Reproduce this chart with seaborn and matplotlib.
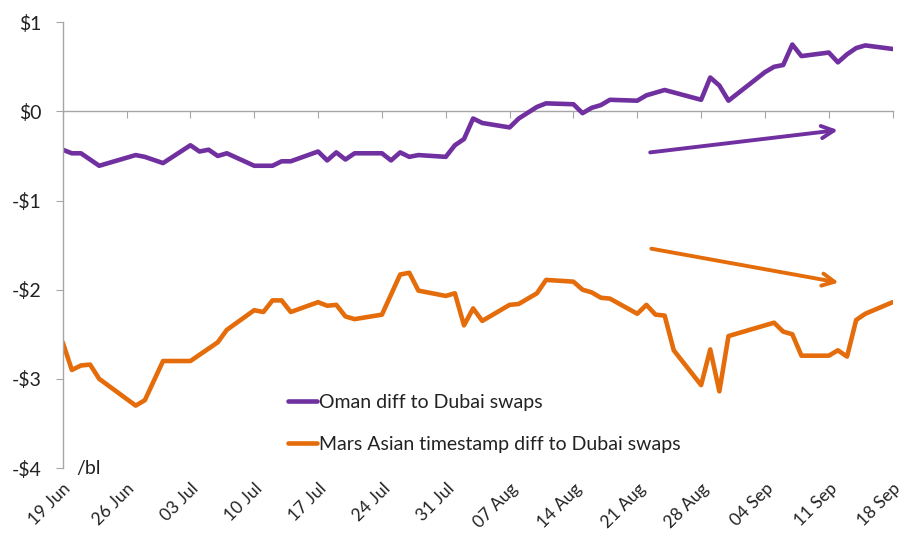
import pandas as pd
import matplotlib
matplotlib.use('Agg')
import matplotlib.pyplot as plt
import matplotlib.dates as mdates
import seaborn as sns

# 데이터
oman_dates = ['2017-06-19', '2017-06-20', '2017-06-21', '2017-06-23', '2017-06-27', '2017-06-28',
              '2017-06-30', '2017-07-03', '2017-07-04', '2017-07-05', '2017-07-06', '2017-07-07',
              '2017-07-10', '2017-07-12', '2017-07-13', '2017-07-14', '2017-07-17', '2017-07-18',
              '2017-07-19', '2017-07-20', '2017-07-21', '2017-07-24', '2017-07-25', '2017-07-26',
              '2017-07-27', '2017-07-28', '2017-07-31', '2017-08-01', '2017-08-02', '2017-08-03',
              '2017-08-04', '2017-08-07', '2017-08-08', '2017-08-10', '2017-08-11', '2017-08-14',
              '2017-08-15', '2017-08-16', '2017-08-17', '2017-08-18', '2017-08-21', '2017-08-22',
              '2017-08-24', '2017-08-28', '2017-08-29', '2017-08-30', '2017-08-31', '2017-09-04',
              '2017-09-05', '2017-09-06', '2017-09-07', '2017-09-08', '2017-09-11', '2017-09-12',
              '2017-09-13', '2017-09-14', '2017-09-15', '2017-09-18']
oman_vals = [-0.43, -0.47, -0.47, -0.61, -0.49, -0.51,
             -0.58, -0.38, -0.45, -0.43, -0.50, -0.47,
             -0.61, -0.61, -0.56, -0.56, -0.45, -0.55,
             -0.46, -0.54, -0.47, -0.47, -0.55, -0.46,
             -0.51, -0.49, -0.51, -0.38, -0.31, -0.08,
             -0.13, -0.18, -0.08, 0.05, 0.09, 0.08,
             -0.02, 0.04, 0.07, 0.13, 0.12, 0.18,
             0.24, 0.13, 0.38, 0.29, 0.12, 0.44,
             0.50, 0.52, 0.75, 0.62, 0.66, 0.55,
             0.64, 0.71, 0.74, 0.70]

mars_dates = ['2017-06-19', '2017-06-20', '2017-06-21', '2017-06-22', '2017-06-23', '2017-06-27',
              '2017-06-28', '2017-06-30', '2017-07-03', '2017-07-06', '2017-07-07', '2017-07-10',
              '2017-07-11', '2017-07-12', '2017-07-13', '2017-07-14', '2017-07-17', '2017-07-18',
              '2017-07-19', '2017-07-20', '2017-07-21', '2017-07-24', '2017-07-26', '2017-07-27',
              '2017-07-28', '2017-07-31', '2017-08-01', '2017-08-02', '2017-08-03', '2017-08-04',
              '2017-08-07', '2017-08-08', '2017-08-10', '2017-08-11', '2017-08-14', '2017-08-15',
              '2017-08-16', '2017-08-17', '2017-08-18', '2017-08-21', '2017-08-22', '2017-08-23',
              '2017-08-24', '2017-08-25', '2017-08-28', '2017-08-29', '2017-08-30', '2017-08-31',
              '2017-09-05', '2017-09-06', '2017-09-07', '2017-09-08', '2017-09-11', '2017-09-12',
              '2017-09-13', '2017-09-14', '2017-09-15', '2017-09-18']
mars_vals = [-2.59, -2.90, -2.85, -2.84, -3.00, -3.30,
             -3.24, -2.80, -2.80, -2.59, -2.45, -2.23,
             -2.25, -2.12, -2.12, -2.25, -2.14, -2.18,
             -2.17, -2.30, -2.33, -2.28, -1.83, -1.81,
             -2.01, -2.07, -2.04, -2.40, -2.21, -2.35,
             -2.17, -2.16, -2.04, -1.89, -1.91, -2.00,
             -2.03, -2.09, -2.10, -2.27, -2.17, -2.28,
             -2.29, -2.68, -3.07, -2.67, -3.14, -2.52,
             -2.37, -2.47, -2.50, -2.74, -2.74, -2.68,
             -2.75, -2.34, -2.27, -2.14]

oman_label = 'Oman diff to Dubai swaps'
mars_label = 'Mars Asian timestamp diff to Dubai swaps'

# 추세 화살표 (시작/끝: 날짜, 값)
oman_arrow_dates = ['2017-08-22 10:00', '2017-09-12 00:00']
oman_arrow_vals = [-0.46, -0.21]
mars_arrow_dates = ['2017-08-22 13:00', '2017-09-12 02:00']
mars_arrow_vals = [-1.54, -1.92]

x_ticks = pd.date_range('2017-06-19', '2017-09-18', freq='7D')
y_ticks = [1, 0, -1, -2, -3, -4]
y_ticklabels = ['$1', '$0', '-$1', '-$2', '-$3', '-$4']

purple = '#7030A0'
orange = '#E46C0A'
grey = '#A6A6A6'

df = pd.concat([
    pd.DataFrame({'date': pd.to_datetime(oman_dates), 'value': oman_vals, 'series': oman_label}),
    pd.DataFrame({'date': pd.to_datetime(mars_dates), 'value': mars_vals, 'series': mars_label}),
], ignore_index=True)

sns.set_style('white')
plt.rcParams['font.family'] = ['Lato', 'DejaVu Sans']

fig = plt.figure(figsize=(9.09, 5.42), dpi=100)
ax = fig.add_axes([0.069, 0.1365, 0.913, 0.8225])

sns.lineplot(data=df, x='date', y='value', hue='series',
             palette={oman_label: purple, mars_label: orange},
             linewidth=3.3, ax=ax, estimator=None, sort=True)

# 화살표
for d, v, c in [(oman_arrow_dates, oman_arrow_vals, purple),
                (mars_arrow_dates, mars_arrow_vals, orange)]:
    dd = pd.to_datetime(d, format='%Y-%m-%d %H:%M')
    ax.annotate('', xy=(dd[1], v[1]), xytext=(dd[0], v[0]),
                arrowprops=dict(arrowstyle='->', color=c, lw=2.8, mutation_scale=22,
                                shrinkA=0, shrinkB=0))

ax.set_xlim(x_ticks[0], x_ticks[-1])
ax.set_ylim(-4, 1)
ax.set_yticks(y_ticks)
ax.set_yticklabels(y_ticklabels)
ax.set_xticks(x_ticks)
ax.xaxis.set_major_formatter(mdates.DateFormatter('%d %b'))
ax.set_xlabel('')
ax.set_ylabel('')

for lbl in ax.get_xticklabels():
    lbl.set_rotation(45)
    lbl.set_ha('right')
    lbl.set_rotation_mode('anchor')
ax.tick_params(axis='x', length=0, labelsize=12.5, pad=9, colors='#222222')
ax.tick_params(axis='y', length=5, direction='out', color=grey, labelsize=14, pad=10,
               labelcolor='#222222')
ax.yaxis.set_ticks_position('left')

for s in ['top', 'right', 'bottom']:
    ax.spines[s].set_visible(False)
ax.spines['left'].set_color(grey)
ax.spines['left'].set_linewidth(1)

# 0 라인 + 눈금
secax = ax.secondary_xaxis(0.8)
secax.set_xticks(x_ticks)
secax.tick_params(axis='x', direction='in', length=5, color=grey, labeltop=False, labelbottom=False)
for s in secax.spines.values():
    s.set_color(grey)
    s.set_linewidth(1)

ax.text(0.016, 0.0, '/bl', transform=ax.transAxes, fontsize=14, va='center', ha='left',
        color='#222222')

leg = ax.legend(loc='center left', bbox_to_anchor=(0.272, 0.10), frameon=False,
                fontsize=14, handlelength=1.45, handletextpad=0.1, labelspacing=1.3,
                borderpad=0, borderaxespad=0)
for t in leg.get_texts():
    t.set_color('#222222')

fig.savefig('out.png', dpi=100)
